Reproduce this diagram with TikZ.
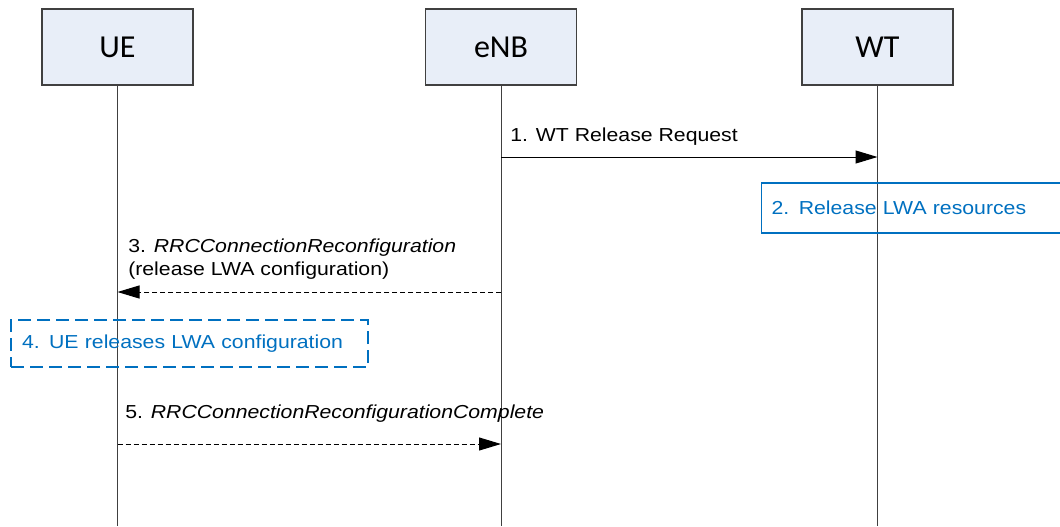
\documentclass[tikz,border=0pt]{standalone}
\usepackage{fontspec}
\setmainfont{Liberation Sans}
\newfontfamily\boxfont{Carlito}
\newfontfamily\msgfont[FakeStretch=1.13]{Liberation Sans}
\usetikzlibrary{arrows.meta,positioning}
\definecolor{actorfill}{HTML}{E8EEF8}
\definecolor{actorline}{HTML}{404040}
\definecolor{notecolor}{HTML}{0070C0}

\begin{document}
\begin{tikzpicture}[
    x=0.75pt, y=-0.75pt,
    actor/.style={draw=actorline,fill=actorfill,line width=0.8pt,minimum width=113.25pt,minimum height=57pt,font=\boxfont\fontsize{24}{28}\selectfont},
    lifeline/.style={line width=0.75pt,black!75},
    msg/.style={-{Triangle[length=16.5pt,width=9.75pt]},line width=0.75pt},
    reply/.style={msg,dash pattern=on 3.75pt off 2.25pt},
    msgtext/.style={anchor=base west,inner sep=0pt,align=left,font=\msgfont\fontsize{14.1}{17.25}\selectfont},
    notebox/.style={draw=notecolor,text=notecolor,line width=1pt,anchor=west,align=left,font=\msgfont\fontsize{14.1}{17.25}\selectfont}
]
    \useasboundingbox (0,0) rectangle (1060,526);

    % Entities
    \node[actor] (ue) at (117.5,47) {UE};
    \node[actor] (enb) at (501,47) {eNB};
    \node[actor] (wt) at (877.5,47) {WT};

    % Lifelines
    \coordinate (ue-end) at (ue |- 0,526);
    \coordinate (enb-end) at (enb |- 0,526);
    \coordinate (wt-end) at (wt |- 0,526);
    \draw[lifeline] (ue) -- (ue-end);
    \draw[lifeline] (enb) -- (enb-end);
    \draw[lifeline] (wt) -- (wt-end);

    % 1. WT Release Request
    \coordinate (m1-from) at (enb |- 0,157);
    \coordinate (m1-to) at (wt |- 0,157);
    \draw[msg] (m1-from) -- (m1-to);
    \node[msgtext] (m1) at (510,141) {1. WT Release Request};

    % 2. Release at WT
    \node[notebox,inner xsep=7.5pt,text width=225pt,minimum height=37.5pt] (n2) at (761,208) {2. Release LWA resources};

    % 3. RRC reconfiguration
    \coordinate (m3-from) at (enb |- 0,292);
    \coordinate (m3-to) at (ue |- 0,292);
    \draw[reply] (m3-from) -- (m3-to);
    \node[msgtext] (m3) at (128,275) {3. \textit{RRCConnectionReconfiguration}\\(release LWA configuration)};

    % 4. Release at UE
    \node[notebox,dash pattern=on 9.75pt off 4.5pt,line width=1.5pt,inner xsep=8.25pt,text width=251.25pt,minimum height=35.25pt] (n4) at (10,343.5) {4. UE releases LWA configuration};

    % 5. RRC reconfiguration complete
    \coordinate (m5-from) at (ue |- 0,444);
    \coordinate (m5-to) at (enb |- 0,444);
    \draw[reply] (m5-from) -- (m5-to);
    \node[msgtext] (m5) at (125,418) {5. \textit{RRCConnectionReconfigurationComplete}};
\end{tikzpicture}
\end{document}
